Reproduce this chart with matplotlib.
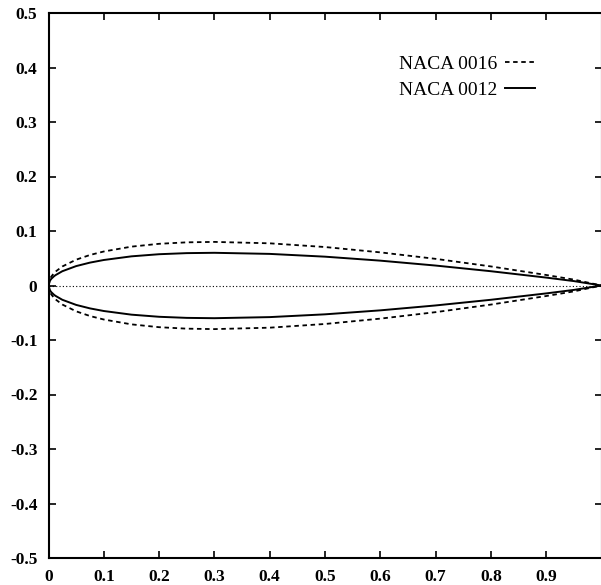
import matplotlib
matplotlib.use("Agg")
import matplotlib.pyplot as plt

plt.rcParams['font.family'] = ['Liberation Serif', 'DejaVu Serif']

# chordwise stations and half-thickness
x_stations = [0.0, 0.0025, 0.005, 0.01, 0.0125, 0.025, 0.05, 0.075, 0.1, 0.15,
              0.2, 0.25, 0.3, 0.4, 0.5, 0.6, 0.7, 0.8, 0.9, 0.95, 1.0]
naca0012 = [0.0, 0.0087, 0.0122, 0.0170, 0.0189, 0.0262, 0.0356, 0.0420, 0.0468, 0.0535,
            0.0574, 0.0594, 0.0600, 0.0580, 0.0529, 0.0456, 0.0366, 0.0262, 0.0145, 0.0081, 0.0]
naca0016 = [0.0, 0.0116, 0.0163, 0.0227, 0.0253, 0.0349, 0.0474, 0.0560, 0.0624, 0.0713,
            0.0765, 0.0792, 0.0800, 0.0774, 0.0706, 0.0608, 0.0489, 0.0350, 0.0193, 0.0108, 0.0]

x_ticks = [0, 0.1, 0.2, 0.3, 0.4, 0.5, 0.6, 0.7, 0.8, 0.9]
x_tick_labels = ['0', '0.1', '0.2', '0.3', '0.4', '0.5', '0.6', '0.7', '0.8', '0.9']
y_ticks = [-0.5, -0.4, -0.3, -0.2, -0.1, 0, 0.1, 0.2, 0.3, 0.4, 0.5]
y_tick_labels = ['-0.5', '-0.4', '-0.3', '-0.2', '-0.1', '0', '0.1', '0.2', '0.3', '0.4', '0.5']

fig = plt.figure(figsize=(6.01, 5.85), dpi=100)
ax = fig.add_axes([48.5 / 601, 27 / 585, 553 / 601, 545 / 585])

lower16 = [-v for v in naca0016]
lower12 = [-v for v in naca0012]

ax.plot(x_stations, naca0016, color='black', lw=1.3, linestyle=(0, (2.5, 2)), label='NACA 0016')
ax.plot(x_stations, lower16, color='black', lw=1.3, linestyle=(0, (2.5, 2)))
ax.plot(x_stations, naca0012, color='black', lw=1.4, label='NACA 0012')
ax.plot(x_stations, lower12, color='black', lw=1.4)
ax.plot([0, 1], [0, 0], color='black', lw=0.8, linestyle=(0, (1, 2)))

ax.set_xlim(0, 1.0)
ax.set_ylim(-0.5, 0.5)
ax.set_xticks(x_ticks)
ax.set_xticklabels(x_tick_labels)
ax.set_yticks(y_ticks)
ax.set_yticklabels(y_tick_labels)
ax.tick_params(direction='in', top=True, right=True, length=5, width=1.2,
               labelsize=12.5, pad=8)
for lab in ax.get_yticklabels() + ax.get_xticklabels():
    lab.set_fontweight('bold')
for sp in ax.spines.values():
    sp.set_linewidth(1.5)

leg = ax.legend(loc='upper right', bbox_to_anchor=(0.88, 0.922), frameon=False,
                markerfirst=False, handlelength=1.55, handletextpad=0.4,
                labelspacing=0.4, borderpad=0, borderaxespad=0, fontsize=14)

fig.savefig('out.png', dpi=100)
